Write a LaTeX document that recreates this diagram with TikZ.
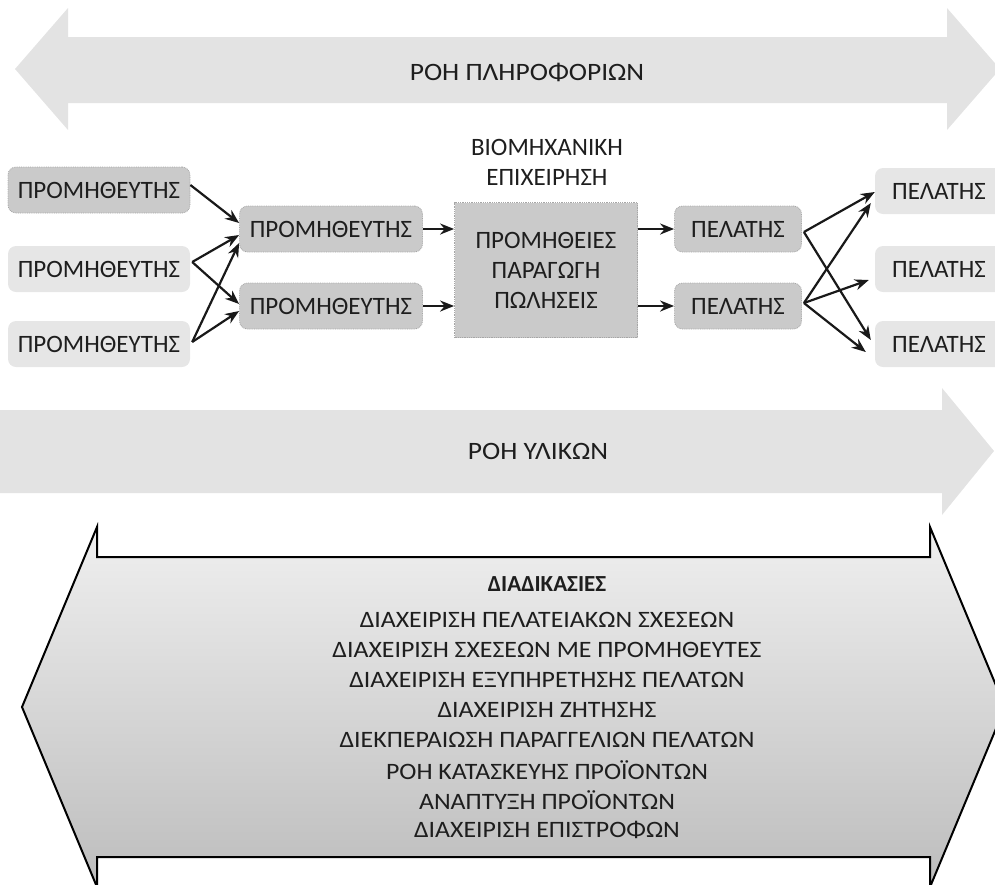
\documentclass[tikz,border=0pt]{standalone}
\usepackage{fontspec}
\setmainfont{Carlito}
\newfontfamily\widefont[FakeStretch=1.1]{Carlito}
\usetikzlibrary{arrows.meta}

\definecolor{flowgray}{HTML}{E3E3E3}
\definecolor{boxdark}{HTML}{CACACA}
\definecolor{boxlight}{HTML}{E6E6E6}
\definecolor{inkgray}{HTML}{1E1E1E}

\tikzset{
  unitbox/.style={rounded corners=8pt, minimum height=46pt, inner sep=0pt,
    text=inkgray, font=\fontsize{25}{30}\selectfont},
  darkbox/.style={unitbox, fill=boxdark, draw=black!35, densely dotted, line width=0.8pt},
  lightbox/.style={unitbox, fill=boxlight},
  link/.style={-{Stealth[length=14pt,width=11pt]}, line width=2.2pt, black!90},
  flowtext/.style={text=inkgray, font=\widefont\fontsize{25}{30}\selectfont},
  proctext/.style={text=inkgray, font=\widefont\fontsize{23.5}{30}\selectfont},
}

\begin{document}
\begin{tikzpicture}[x=1pt,y=-1pt]
  \useasboundingbox (0,0) rectangle (995,884);
  \clip (0,0) rectangle (995,884);
  % flows
  \fill[flowgray] (15,69) -- (68,8) -- (68,37) -- (947,37) -- (947,8) -- (1000,69)
    -- (947,130) -- (947,103) -- (68,103) -- (68,130) -- cycle;
  \node[flowtext] (info) at (527,72) {ΡΟΗ ΠΛΗΡΟΦΟΡΙΩΝ};
  \fill[flowgray] (0,410) -- (942,410) -- (942,388) -- (994,451) -- (942,515)
    -- (942,493) -- (0,493) -- cycle;
  \node[flowtext] (material) at (538,451) {ΡΟΗ ΥΛΙΚΩΝ};
  % processes
  \draw[line width=2pt, top color=black!6, bottom color=black!26]
    (22,707) -- (97,527) -- (97,557) -- (930,557) -- (930,527) -- (1005,707)
    -- (930,887) -- (930,857) -- (97,857) -- (97,887) -- cycle;
  \node[proctext, font=\bfseries\fontsize{23}{30}\selectfont] (proc) at (547,584) {ΔΙΑΔΙΚΑΣΙΕΣ};
  \foreach \txt [count=\i] in {ΔΙΑΧΕΙΡΙΣΗ ΠΕΛΑΤΕΙΑΚΩΝ ΣΧΕΣΕΩΝ,
      ΔΙΑΧΕΙΡΙΣΗ ΣΧΕΣΕΩΝ ΜΕ ΠΡΟΜΗΘΕΥΤΕΣ, ΔΙΑΧΕΙΡΙΣΗ ΕΞΥΠΗΡΕΤΗΣΗΣ ΠΕΛΑΤΩΝ,
      ΔΙΑΧΕΙΡΙΣΗ ΖΗΤΗΣΗΣ, ΔΙΕΚΠΕΡΑΙΩΣΗ ΠΑΡΑΓΓΕΛΙΩΝ ΠΕΛΑΤΩΝ,
      ΡΟΗ ΚΑΤΑΣΚΕΥΗΣ ΠΡΟΪΟΝΤΩΝ, ΑΝΑΠΤΥΞΗ ΠΡΟΪΟΝΤΩΝ, ΔΙΑΧΕΙΡΙΣΗ ΕΠΙΣΤΡΟΦΩΝ}
    \node[proctext] (p\i) at (547,590+30*\i) {\txt};
  % firm
  \node[unitbox, align=center] (firm) at (547,162) {ΒΙΟΜΗΧΑΝΙΚΗ\\ΕΠΙΧΕΙΡΗΣΗ};
  % suppliers
  \node[darkbox, minimum width=182pt] (s1) at (99,190) {ΠΡΟΜΗΘΕΥΤΗΣ};
  \node[lightbox, minimum width=182pt] (s2) at (99,269) {ΠΡΟΜΗΘΕΥΤΗΣ};
  \node[lightbox, minimum width=182pt] (s3) at (99,344) {ΠΡΟΜΗΘΕΥΤΗΣ};
  \node[darkbox, minimum width=183pt] (m1) at (331,229) {ΠΡΟΜΗΘΕΥΤΗΣ};
  \node[darkbox, minimum width=183pt] (m2) at (331,306) {ΠΡΟΜΗΘΕΥΤΗΣ};
  % company
  \node[darkbox, rounded corners=0pt, minimum width=183pt, minimum height=135pt,
    align=center] (core) at (546,270) {ΠΡΟΜΗΘΕΙΕΣ\\ΠΑΡΑΓΩΓΗ\\ΠΩΛΗΣΕΙΣ};
  % customers
  \node[darkbox, minimum width=127pt] (c1) at (738,229) {ΠΕΛΑΤΗΣ};
  \node[darkbox, minimum width=127pt] (c2) at (738,306) {ΠΕΛΑΤΗΣ};
  \node[lightbox, minimum width=128pt] (r1) at (939,191) {ΠΕΛΑΤΗΣ};
  \node[lightbox, minimum width=128pt] (r2) at (939,269) {ΠΕΛΑΤΗΣ};
  \node[lightbox, minimum width=128pt] (r3) at (939,344) {ΠΕΛΑΤΗΣ};
  % arrows
  \draw[link] ([yshift=5pt]s1.east) -- ([yshift=6pt]m1.west);
  \draw[link] ([yshift=7pt,xshift=2pt]s2.east) -- ([yshift=-6pt]m1.west);
  \draw[link] ([yshift=7pt,xshift=2pt]s2.east) -- ([yshift=2pt]m2.west);
  \draw[link] ([yshift=2pt,xshift=2pt]s3.east) -- ([yshift=-14pt]m1.west);
  \draw[link] ([yshift=2pt,xshift=2pt]s3.east) -- ([yshift=-5pt]m2.west);
  \draw[link] (m1.east) -- (m1.east -| core.west);
  \draw[link] (m2.east) -- (m2.east -| core.west);
  \draw[link] (core.east |- c1.west) -- (c1.west);
  \draw[link] (core.east |- c2.west) -- (c2.west);
  \draw[link] ([yshift=-3pt,xshift=2pt]c1.east) -- ([yshift=-1pt]r1.west);
  \draw[link] ([yshift=-3pt,xshift=2pt]c1.east) -- ([yshift=4pt,xshift=-4pt]r3.west);
  \draw[link] ([yshift=3pt,xshift=2pt]c2.east) -- ([yshift=-12pt,xshift=-4pt]r1.west);
  \draw[link] ([yshift=3pt,xshift=2pt]c2.east) -- ([yshift=-11pt,xshift=-6pt]r2.west);
  \draw[link] ([yshift=3pt,xshift=2pt]c2.east) -- ([yshift=-8pt,xshift=-9pt]r3.west);
\end{tikzpicture}
\end{document}
